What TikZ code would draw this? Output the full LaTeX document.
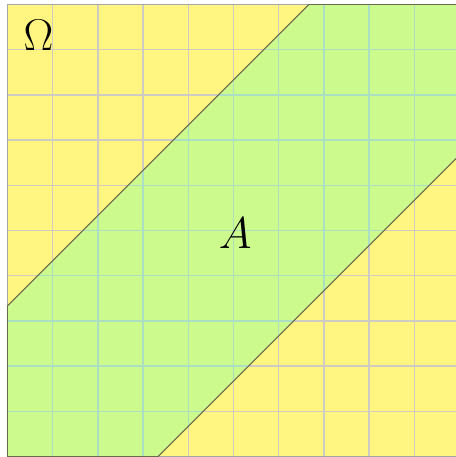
\documentclass[tikz,border=0pt]{standalone}
\usepackage{fix-cm}
\definecolor{bgyellow}{RGB}{255,245,128}
\definecolor{bandgreen}{RGB}{205,250,140}
\definecolor{gridy}{RGB}{205,203,195}
\definecolor{gridg}{RGB}{172,222,195}
\definecolor{edgedark}{RGB}{105,105,75}
\tikzset{
  gridline/.style={line width=0.9pt},
  bandedge/.style={draw=edgedark, line width=0.6pt},
  frame/.style={draw=gray!70, line width=1.1pt},
  lbl/.style={font=\fontsize{28}{30}\selectfont, inner sep=0pt}
}
\begin{document}
\begin{tikzpicture}
\useasboundingbox (-0.166,-0.011) rectangle (9.922,10.1);
\fill[bgyellow] (0,0) rectangle (10,10);
\draw[gridline, gridy] (0,0) grid (10,10);
\fill[bandgreen] (0,0) -- (10/3,0) -- (10,20/3) -- (10,10) -- (20/3,10) -- (0,10/3) -- cycle;
\begin{scope}
\clip (0,0) -- (10/3,0) -- (10,20/3) -- (10,10) -- (20/3,10) -- (0,10/3) -- cycle;
\draw[gridline, gridg] (0,0) grid (10,10);
\end{scope}
\draw[frame] (0,0) rectangle (10,10);
\draw[bandedge] (0,0) -- (10/3,0) -- (10,20/3) -- (10,10) -- (20/3,10) -- (0,10/3) -- cycle;
\node[lbl] (omega) at (0.687,9.32) {$\Omega$};
\node[lbl] (a) at (5.04,4.93) {$A$};
\end{tikzpicture}
\end{document}
